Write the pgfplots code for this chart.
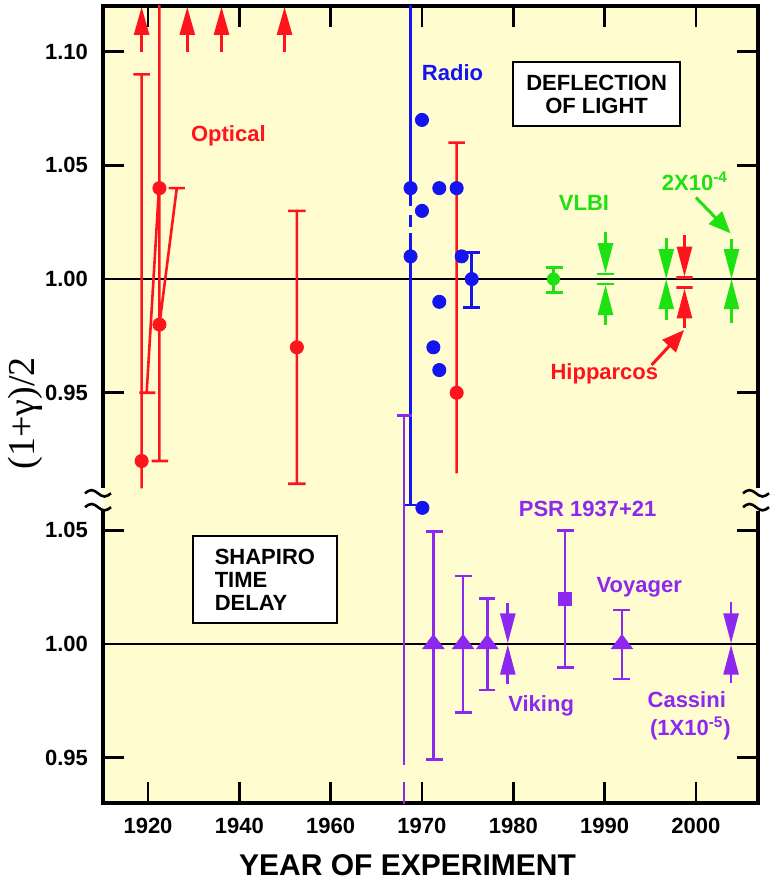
\documentclass[border=0pt]{standalone}
\usepackage{pgfplots}
\pgfplotsset{compat=1.18}
\usetikzlibrary{arrows.meta}
\usepackage{fontspec}
\setmainfont{Liberation Sans}
\newfontfamily\yserif{Liberation Serif}
\definecolor{myred}{RGB}{255,20,30}
\definecolor{myblue}{RGB}{20,20,240}
\definecolor{mygreen}{RGB}{30,225,20}
\definecolor{mypurple}{RGB}{140,40,240}
\definecolor{bg}{RGB}{255,253,208}
\tikzset{
  lab/.style={font=\bfseries\fontsize{11}{13}\selectfont, inner sep=0pt},
  tipA/.style={-{Triangle[length=14pt,width=7.5pt]}},
  tipB/.style={-{Triangle[length=15pt,width=7.5pt]}},
  tipC/.style={-{Triangle[length=11pt,width=9pt]}},
}
\begin{document}
\begin{tikzpicture}
\begin{axis}[
  scale only axis, width=327.5pt, height=398.5pt,
  xmin=1910.14, xmax=2053.6, ymin=0.7696, ymax=1.1201,
  axis background/.style={fill=bg},
  axis line style={line width=2.4pt},
  tick align=inside, major tick length=10.5pt,
  tick style={black, line width=1.3pt},
  xtick={1920,1940,1960,1980,2000,2020,2040},
  xticklabels={1920,1940,1960,1970,1980,1990,2000},
  ytick={0.7895,0.8395,0.8895,0.95,1.00,1.05,1.10},
  yticklabels={0.95,1.00,1.05,0.95,1.00,1.05,1.10},
  tick label style={font=\bfseries\fontsize{11}{13}\selectfont},
  xticklabel style={yshift=-4pt},
  yticklabel style={xshift=-4pt},
  xlabel={YEAR OF EXPERIMENT},
  xlabel style={at={(axis description cs:0.4649,-0.0778)}, anchor=center, font=\bfseries\fontsize{15}{18}\selectfont},
  ylabel={(1+γ)/2},
  ylabel style={at={(axis description cs:-0.119,0.489)}, anchor=center, font=\yserif\fontsize{19}{22}\selectfont},
  unbounded coords=jump,
]
% reference lines
\addplot[black, line width=1.2pt] coordinates {(1910.14,1) (2053.6,1)};
\addplot[black, line width=1.2pt] coordinates {(1910.14,0.8395) (2053.6,0.8395)};

% ---- optical (red) bars
\addplot[myred, line width=1.3pt] coordinates {
(1918.6,1.09) (1918.6,0.908) (nan,nan)
(1916.8,1.09) (1920.4,1.09) (nan,nan)
(1922.5,1.125) (1922.5,0.92) (nan,nan)
(1920.8,0.92) (1924.4,0.92) (nan,nan)
(1919.7,0.95) (1922.4,1.04) (nan,nan)
(1918.1,0.95) (1921.6,0.95) (nan,nan)
(1922.5,0.98) (1926.3,1.04) (nan,nan)
(1924.5,1.04) (1928.1,1.04) (nan,nan)
(1952.6,1.03) (1952.6,0.91) (nan,nan)
(1950.7,1.03) (1954.5,1.03) (nan,nan)
(1950.7,0.91) (1954.5,0.91) (nan,nan)
(1987.6,1.06) (1987.6,0.9146) (nan,nan)
(1985.8,1.06) (1989.4,1.06) (nan,nan)
(2035.7,1.0007) (2039.3,1.0007) (nan,nan)
(2035.7,0.9963) (2039.3,0.9963)
};
% ---- radio (blue) bars
\addplot[myblue, line width=1.3pt] coordinates {
(1977.5,1.125) (1977.5,1.0321) (nan,nan)
(1977.5,1.0281) (1977.5,1.023) (nan,nan)
(1977.5,1.0201) (1977.5,0.9006) (nan,nan)
(1975.8,0.9006) (1978.8,0.9006) (nan,nan)
(1990.9,1.0117) (1990.9,0.9874) (nan,nan)
(1989.0,1.0117) (1992.7,1.0117) (nan,nan)
(1989.0,0.9874) (1992.7,0.9874)
};
% ---- VLBI (green) bars
\addplot[mygreen, line width=1.3pt] coordinates {
(2008.8,1.005) (2008.8,0.994) (nan,nan)
(2007.1,1.005) (2010.8,1.005) (nan,nan)
(2007.1,0.994) (2010.8,0.994) (nan,nan)
(2018.4,1.0022) (2022.0,1.0022) (nan,nan)
(2018.4,0.9978) (2022.0,0.9978)
};
% ---- Shapiro delay (purple) bars, actual values shifted to lower panel
\addplot[mypurple, line width=1.3pt, y filter/.expression={y-0.1605}] coordinates {
(1976.1,1.1005) (1976.1,0.9468) (nan,nan)
(1976.1,0.9393) (1976.1,0.9255) (nan,nan)
(1974.5,1.1005) (1977.8,1.1005) (nan,nan)
(1982.5,1.0494) (1982.5,0.9493) (nan,nan)
(1980.9,1.0494) (1984.6,1.0494) (nan,nan)
(1980.9,0.9493) (1984.6,0.9493) (nan,nan)
(1989.0,1.0299) (1989.0,0.9698) (nan,nan)
(1987.3,1.0299) (1990.9,1.0299) (nan,nan)
(1987.3,0.9698) (1990.9,0.9698) (nan,nan)
(1994.3,1.0201) (1994.3,0.9798) (nan,nan)
(1992.6,1.0201) (1996.1,1.0201) (nan,nan)
(1992.6,0.9798) (1996.1,0.9798) (nan,nan)
(2011.35,1.0499) (2011.35,0.9898) (nan,nan)
(2009.5,1.0499) (2013.2,1.0499) (nan,nan)
(2009.5,0.9898) (2013.2,0.9898) (nan,nan)
(2023.8,1.0149) (2023.8,0.9846) (nan,nan)
(2021.9,1.0149) (2025.6,1.0149) (nan,nan)
(2021.9,0.9846) (2025.6,0.9846)
};

% ---- points
\addplot[only marks, mark=*, mark size=3.3pt, myblue] coordinates {
(1977.5,1.04) (1980.0,1.07) (1980.0,1.03) (1977.5,1.01) (1983.8,1.04)
(1987.6,1.04) (1983.8,0.99) (1982.5,0.97) (1983.8,0.96) (1988.7,1.01)
(1990.9,1.00) (1980.1,0.8994)
};
\addplot[only marks, mark=*, mark size=3.3pt, myred] coordinates {
(1918.6,0.92) (1922.5,1.04) (1922.5,0.98) (1952.6,0.97) (1987.6,0.95)
};
\addplot[only marks, mark=*, mark size=3.1pt, mygreen] coordinates {(2008.8,1.00)};
\addplot[only marks, mark=triangle*, mark size=4.7pt, mark options={xscale=1.3}, mypurple, y filter/.expression={y-0.1605}] coordinates {
(1982.5,1.00) (1989.0,1.00) (1994.3,1.00) (2023.8,1.00)
};
\addplot[only marks, mark=square*, mark size=3.4pt, mypurple, y filter/.expression={y-0.1605}] coordinates {(2011.35,1.0198)};

% ---- lower-limit arrows (optical)
\addplot[myred, line width=1.3pt, tipA] coordinates {(1918.6,1.10) (1918.6,1.1197)};
\addplot[myred, line width=1.3pt, tipA] coordinates {(1928.6,1.10) (1928.6,1.1197)};
\addplot[myred, line width=1.3pt, tipA] coordinates {(1936.1,1.10) (1936.1,1.1197)};
\addplot[myred, line width=1.3pt, tipA] coordinates {(1949.9,1.10) (1949.9,1.1197)};
% ---- bound arrows
\addplot[mygreen, line width=1.3pt, tipB] coordinates {(2020.2,1.0208) (2020.2,1.0026)};
\addplot[mygreen, line width=1.3pt, tipB] coordinates {(2020.2,0.9798) (2020.2,0.9974)};
\addplot[mygreen, line width=1.3pt, tipB] coordinates {(2033.5,1.0179) (2033.5,1.0)};
\addplot[mygreen, line width=1.3pt, tipB] coordinates {(2033.5,0.9820) (2033.5,1.0)};
\addplot[mygreen, line width=1.3pt, tipB] coordinates {(2047.8,1.0175) (2047.8,1.0)};
\addplot[mygreen, line width=1.3pt, tipB] coordinates {(2047.8,0.9808) (2047.8,1.0)};
\addplot[myred, line width=1.3pt, tipB] coordinates {(2037.5,1.0193) (2037.5,1.0011)};
\addplot[myred, line width=1.3pt, tipB] coordinates {(2037.5,0.9783) (2037.5,0.9959)};
\addplot[mypurple, line width=1.3pt, tipB] coordinates {(1998.8,0.8574) (1998.8,0.8398)};
\addplot[mypurple, line width=1.3pt, tipB] coordinates {(1998.8,0.8219) (1998.8,0.8392)};
\addplot[mypurple, line width=1.3pt, tipB] coordinates {(2047.7,0.8578) (2047.7,0.8398)};
\addplot[mypurple, line width=1.3pt, tipB] coordinates {(2047.7,0.8222) (2047.7,0.8392)};
% ---- annotation arrows
\addplot[mygreen, line width=1.5pt, tipC] coordinates {(2040.0,1.0359) (2047.6,1.0201)};
\addplot[myred, line width=1.5pt, tipC] coordinates {(2030.3,0.9622) (2037.4,0.9776)};

% ---- labels
\node[lab, text=myred] at (axis cs:1937.6,1.0629) {Optical};
\node[lab, text=myblue] at (axis cs:1986.7,1.091) {Radio};
\node[lab, draw=black, fill=white, line width=1.2pt, align=center, minimum width=83.5pt, minimum height=32pt, font=\bfseries\fontsize{11}{11.5}\selectfont] at (axis cs:2018.25,1.0814) {DEFLECTION\\OF LIGHT};
\node[lab, text=mygreen] at (axis cs:2015.5,1.0334) {VLBI};
\node[lab, text=mygreen] at (axis cs:2039.8,1.0431) {2X10\textsuperscript{-4}};
\node[lab, text=myred] at (axis cs:2019.95,0.9582) {Hipparcos};
\node[lab, text=mypurple] at (axis cs:2016.3,0.8989) {PSR 1937+21};
\node[lab, text=mypurple] at (axis cs:2027.6,0.8646) {Voyager};
\node[lab, text=mypurple] at (axis cs:2006.1,0.8122) {Viking};
\node[lab, text=mypurple] at (axis cs:2038.0,0.8149) {Cassini};
\node[lab, text=mypurple] at (axis cs:2038.8,0.8023) {(1X10\textsuperscript{-5})};
\node[lab, draw=black, fill=white, line width=1.2pt, align=left, minimum width=72pt, minimum height=43.5pt, font=\bfseries\fontsize{11}{11.5}\selectfont] at (axis cs:1945.6,0.8679) {SHAPIRO\\TIME\\DELAY};

\coordinate (O) at (rel axis cs:0,0);
\coordinate (GL1) at (axis cs:1910.14,0.9081);
\coordinate (GL2) at (axis cs:1910.14,0.8980);
\coordinate (GR1) at (axis cs:2053.6,0.9081);
\coordinate (GR2) at (axis cs:2053.6,0.8980);
\coordinate (TL1) at (axis cs:1910.14,0.9058);
\coordinate (TL2) at (axis cs:1910.14,0.8997);
\coordinate (TR1) at (axis cs:2053.6,0.9058);
\coordinate (TR2) at (axis cs:2053.6,0.8997);
\end{axis}
% axis break marks
\fill[white] ([xshift=-1.6pt]GL1) rectangle (GL2);
\fill[bg] (GL1) rectangle ([xshift=1.6pt]GL2);
\fill[bg] ([xshift=-1.6pt]GR1) rectangle (GR2);
\fill[white] (GR1) rectangle ([xshift=1.6pt]GR2);
\foreach \c/\s in {TL1/-9pt, TL2/-9pt, TR1/-7.5pt, TR2/-7.5pt}{
  \draw[line width=1.3pt] ([xshift=\s]\c) sin ++(3.25pt,1.6pt) cos ++(3.25pt,-1.6pt) sin ++(3.25pt,-1.6pt) cos ++(3.25pt,1.6pt);
}
\pgfresetboundingbox
\path (O) ++(-51.5pt,-43.5pt) rectangle ++(386pt,445pt);
\end{tikzpicture}
\end{document}
